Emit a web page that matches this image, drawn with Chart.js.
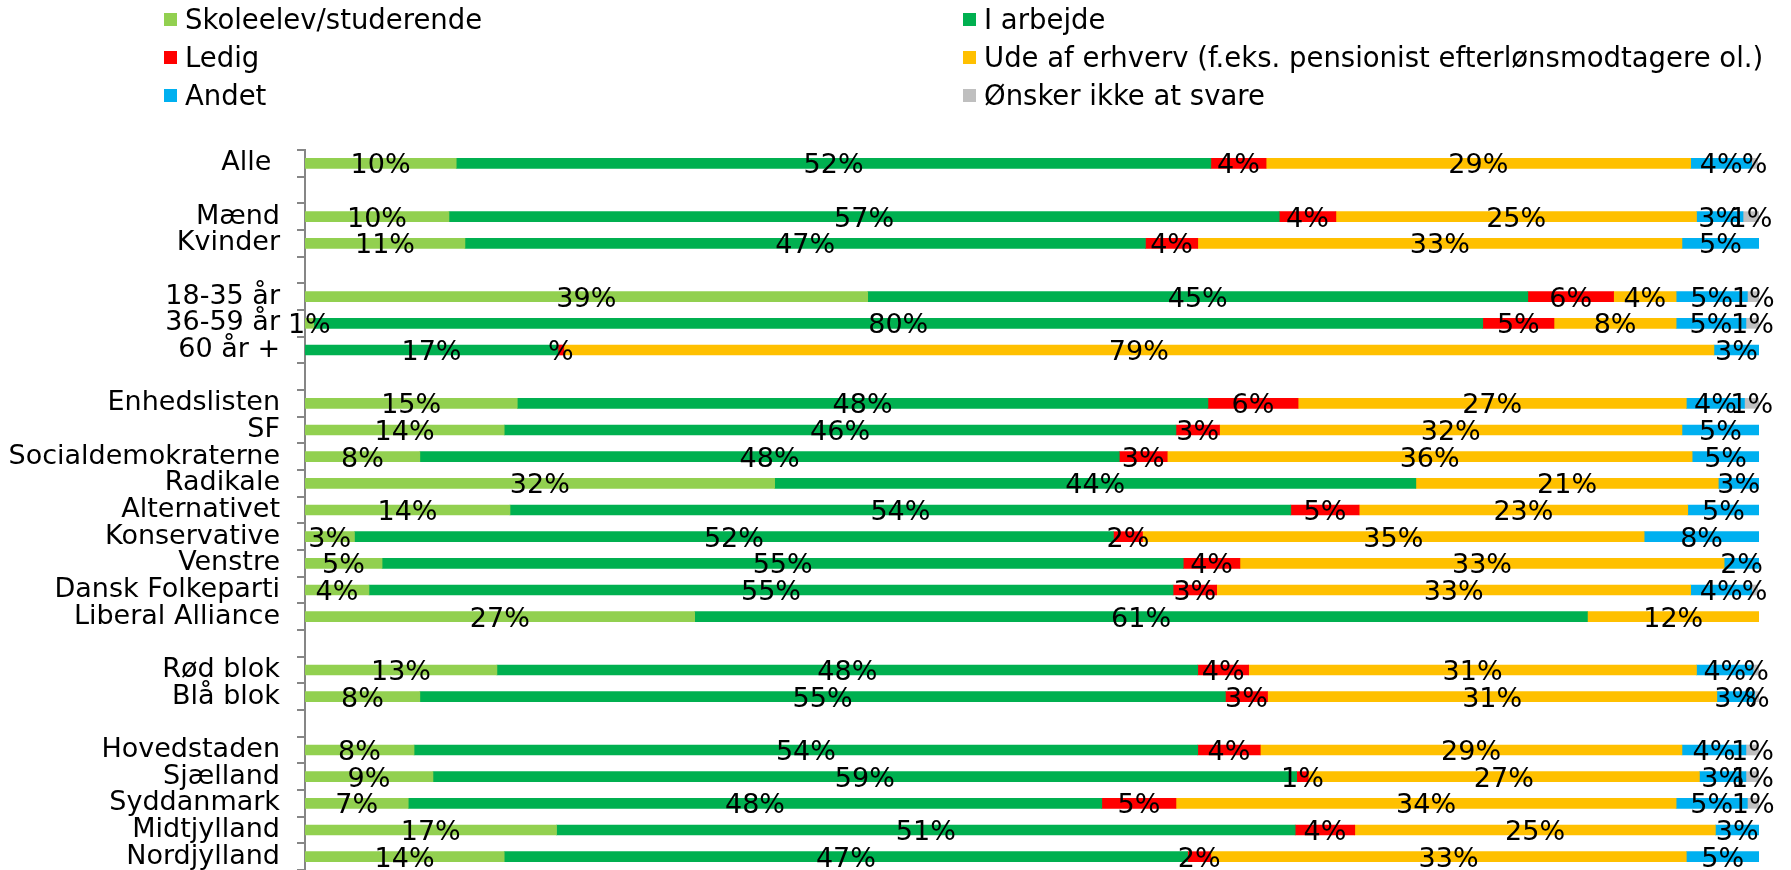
<!DOCTYPE html>
<html>
<head>
<meta charset="utf-8">
<script src="https://cdn.jsdelivr.net/npm/chart.js@4"></script>
<style>
  body { margin: 0; background: #fff; }
  #wrap { position: relative; width: 1791px; height: 870px; }
  #legend { position: absolute; left: 0; top: 0; width: 1791px; height: 114px; font: 27.5px "DejaVu Sans", sans-serif; color: #000; }
  .item { position: absolute; height: 38px; display: flex; align-items: center; white-space: nowrap; }
  .box { width: 13px; height: 13px; margin-right: 8px; }
</style>
</head>
<body>
<div id="wrap">
  <canvas id="chart"></canvas>
  <div id="legend"></div>
</div>
<script>
// ===== Data =====
const categories = [
  "Alle ", "", "Mænd", "Kvinder", "", "18-35 år", "36-59 år", "60 år +", "",
  "Enhedslisten", "SF", "Socialdemokraterne", "Radikale", "Alternativet",
  "Konservative", "Venstre", "Dansk Folkeparti", "Liberal Alliance", "",
  "Rød blok", "Blå blok", "",
  "Hovedstaden", "Sjælland", "Syddanmark", "Midtjylland", "Nordjylland"
];

const seriesNames = [
  "Skoleelev/studerende", "I arbejde", "Ledig",
  "Ude af erhverv (f.eks. pensionist efterlønsmodtagere ol.)", "Andet", "Ønsker ikke at svare"
];
const seriesColors = ["#92D050", "#00B050", "#FF0000", "#FFC000", "#00B0F0", "#BFBFBF"];

const skoleelev = [10.4, null, 9.9, 11.0, null, 38.7, 0.6, null, null, 14.6, 13.7, 7.9, 32.3, 14.1, 3.4, 5.3, 4.4, 26.8, null, 13.2, 7.9, null, 7.5, 8.8, 7.1, 17.3, 13.7];
const iArbejde  = [51.9, null, 57.1, 46.8, null, 45.4, 80.4, 17.4, null, 47.5, 46.2, 48.1, 44.1, 53.7, 52.2, 55.1, 55.3, 61.4, null, 48.2, 55.4, null, 53.9, 59.4, 47.7, 50.8, 47.0];
const ledig     = [3.8, null, 3.9, 3.6, null, 5.9, 4.9, 0.4, null, 6.2, 3.0, 3.3, null, 4.7, 2.0, 3.9, 3.0, null, null, 3.5, 2.9, null, 4.3, 0.8, 5.1, 4.1, 1.6];
const udeAf     = [29.2, null, 24.8, 33.3, null, 4.3, 8.4, 79.1, null, 26.7, 31.8, 36.1, 20.8, 22.6, 34.5, 33.3, 32.6, 11.8, null, 30.8, 30.9, null, 29.0, 26.9, 34.4, 24.8, 32.7];
const andet     = [4.2, null, 3.2, 5.3, null, 4.9, 4.8, 3.1, null, 4.0, 5.3, 4.6, 2.8, 4.9, 7.9, 2.4, 4.2, null, null, 3.9, 2.6, null, 4.4, 3.2, 4.9, 3.0, 5.0];
const ikkeSvare = [0.4, null, 1.1, null, null, 0.8, 0.9, null, null, 1.0, null, null, null, null, null, null, 0.4, null, null, 0.4, 0.3, null, 0.9, 0.9, 0.8, null, null];

const seriesValues = [skoleelev, iArbejde, ledig, udeAf, andet, ikkeSvare];

Chart.defaults.font.family = '"DejaVu Sans", sans-serif';
Chart.defaults.font.size = 27;
Chart.defaults.color = "#000";

// ===== Percent labels in the middle of each segment =====
const segmentLabels = {
  id: "segmentLabels",
  afterDatasetsDraw(chart) {
    const ctx = chart.ctx;
    ctx.save();
    ctx.font = '27px "DejaVu Sans", sans-serif';
    ctx.fillStyle = "#000";
    ctx.textAlign = "center";
    ctx.textBaseline = "middle";
    chart.data.datasets.forEach((ds, i) => {
      chart.getDatasetMeta(i).data.forEach((bar, j) => {
        const v = ds.data[j];
        if (v == null || v <= 0) return;
        const r = Math.round(v);
        const txt = r === 0 ? "%" : r + "%";
        ctx.fillText(txt, (bar.x + bar.base) / 2, bar.y + 3);
      });
    });
    ctx.restore();
  }
};

const chart = new Chart(document.getElementById("chart"), {
  type: "bar",
  data: {
    labels: categories,
    datasets: seriesNames.map((name, i) => ({
      label: name,
      data: seriesValues[i],
      backgroundColor: seriesColors[i],
      barThickness: 10,
      borderWidth: 0
    }))
  },
  options: {
    indexAxis: "y",
    responsive: true,
    maintainAspectRatio: false,
    animation: false,
    layout: { padding: { top: 150, right: 32, bottom: 0, left: 0 } },
    plugins: {
      legend: { display: false },
      tooltip: { enabled: false }
    },
    scales: {
      x: { stacked: true, min: 0, max: 100, display: false },
      y: {
        stacked: true,
        afterFit: (s) => { s.width = 305; s.paddingTop = 0; s.paddingBottom = 0; },
        border: { display: true, color: "#868686", width: 2 },
        grid: { drawOnChartArea: false, drawTicks: true, tickLength: 8, color: "#868686", lineWidth: 2 },
        ticks: { autoSkip: false, padding: 17, color: "#000", font: { size: 27 } }
      }
    }
  },
  plugins: [segmentLabels]
});

// ===== Legend in two columns =====
const legendEl = document.getElementById("legend");
chart.data.datasets.forEach((ds, i) => {
  const item = document.createElement("div");
  item.className = "item";
  item.style.left = (164 + (i % 2) * 799) + "px";
  item.style.top = (Math.floor(i / 2) * 38) + "px";
  item.innerHTML = '<span class="box" style="background:' + ds.backgroundColor + '"></span>';
  item.appendChild(document.createTextNode(ds.label));
  legendEl.appendChild(item);
});
</script>
</body>
</html>
